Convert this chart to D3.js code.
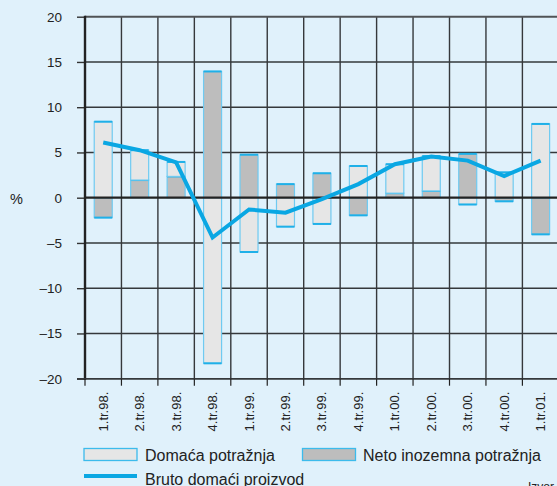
<!DOCTYPE html>
<html>
<head>
<meta charset="utf-8">
<script src="https://cdn.jsdelivr.net/npm/d3@7"></script>
<style>
  body { margin: 0; background: #e0f1fb; }
  svg { display: block; font-family: "Liberation Sans", Arial, sans-serif; }
</style>
</head>
<body>
<div id="chart"></div>
<script>
const quarters = ['1.tr.98.', '2.tr.98.', '3.tr.98.', '4.tr.98.', '1.tr.99.', '2.tr.99.', '3.tr.99.',
	'4.tr.99.', '1.tr.00.', '2.tr.00.', '3.tr.00.', '4.tr.00.', '1.tr.01.'];
const domestic = [8.4, 3.3, 1.6, -18.3, -6.0, -3.2, -2.9, 3.5, 3.2, 3.85, -0.75, 2.8, 8.15];
const netForeign = [-2.2, 1.95, 2.35, 13.95, 4.75, 1.5, 2.7, -1.95, 0.5, 0.75, 4.85, -0.4, -4.05];
const gdp = [6.1, 5.25, 3.9, -4.4, -1.3, -1.65, -0.15, 1.5, 3.7, 4.55, 4.1, 2.4, 4.1];
const yTicks = [-20, -15, -10, -5, 0, 5, 10, 15, 20];

const W = 557, H = 486;
const margin = {top: 16.7, left: 85, bottom: 107.3};
const colW = 36.45;
const plotRight = margin.left + colW * quarters.length;
const plotBottom = H - margin.bottom;

const svg = d3.select('#chart')
	.append('svg')
	.attr('width', W)
	.attr('height', H);

svg.append('rect')
	.attr('width', W)
	.attr('height', H)
	.attr('fill', '#e0f1fb');

const x = d3.scaleBand()
	.domain(quarters)
	.range([margin.left, plotRight])
	.paddingInner(0)
	.paddingOuter(0);

const y = d3.scaleLinear()
	.domain([-20, 20])
	.range([plotBottom, margin.top]);

// grid
svg.append('g')
	.selectAll('line')
	.data(yTicks.filter(d => d !== 0 && d !== 20))
	.join('line')
	.attr('x1', margin.left)
	.attr('x2', plotRight)
	.attr('y1', d => y(d))
	.attr('y2', d => y(d))
	.attr('stroke', '#35383b')
	.attr('stroke-width', 1.4);

svg.append('g')
	.selectAll('line')
	.data(quarters.slice(1))
	.join('line')
	.attr('x1', d => x(d))
	.attr('x2', d => x(d))
	.attr('y1', y(20))
	.attr('y2', y(-20))
	.attr('stroke', '#35383b')
	.attr('stroke-width', 1.4);

svg.append('line')
	.attr('x1', margin.left)
	.attr('x2', plotRight)
	.attr('y1', y(20))
	.attr('y2', y(20))
	.attr('stroke', '#505356')
	.attr('stroke-width', 2);

// bars
const table = quarters.map((q, i) => ({q: q, net: netForeign[i], dom: domestic[i]}));
const series = d3.stack()
	.keys(['net', 'dom'])
	.offset(d3.stackOffsetDiverging)(table);
const fills = {net: '#bdbdbd', dom: '#e6e6e6'};
const barW = 18;

series.forEach(s => {
	const g = svg.append('g');
	g.selectAll('rect')
		.data(s)
		.join('rect')
		.attr('x', d => x(d.data.q) + colW / 2 - barW / 2)
		.attr('y', d => y(Math.max(d[0], d[1])))
		.attr('width', barW)
		.attr('height', d => Math.abs(y(d[0]) - y(d[1])))
		.attr('fill', fills[s.key])
		.attr('stroke', '#6fcaf1')
		.attr('stroke-width', 1.2);
	// stronger edge at the outer end of each bar
	g.selectAll('line')
		.data(s.filter(d => Math.abs(d[1] - d[0]) > 0.01))
		.join('line')
		.attr('x1', d => x(d.data.q) + colW / 2 - barW / 2)
		.attr('x2', d => x(d.data.q) + colW / 2 + barW / 2)
		.attr('y1', d => y(d.data[s.key] >= 0 ? d[1] : d[0]))
		.attr('y2', d => y(d.data[s.key] >= 0 ? d[1] : d[0]))
		.attr('stroke', '#1fb0e8')
		.attr('stroke-width', 2);
});

// zero line and left axis
svg.append('line')
	.attr('x1', margin.left)
	.attr('x2', plotRight)
	.attr('y1', y(0))
	.attr('y2', y(0))
	.attr('stroke', '#222')
	.attr('stroke-width', 2.2);

const yAxis = d3.axisLeft(y)
	.tickValues(yTicks)
	.tickSize(8)
	.tickPadding(15)
	.tickFormat(d => d < 0 ? '\u2013' + Math.abs(d) : d);

svg.append('g')
	.attr('transform', `translate(${margin.left}, 0)`)
	.call(yAxis)
	.call(g => g.select('.domain').remove())
	.call(g => g.selectAll('.tick line').attr('stroke', '#333').attr('stroke-width', 1.4))
	.call(g => g.selectAll('.tick text')
		.attr('fill', '#222')
		.style('font-size', '13.5px')
		.style('font-family', '"Liberation Sans", Arial, sans-serif'));

svg.append('line')
	.attr('x1', margin.left)
	.attr('x2', margin.left)
	.attr('y1', y(20) - 1)
	.attr('y2', y(-20) + 1)
	.attr('stroke', '#222')
	.attr('stroke-width', 2.4);

svg.append('text')
	.attr('x', 10)
	.attr('y', y(0) + 6)
	.attr('fill', '#222')
	.style('font-size', '14.5px')
	.text('%');

// bottom axis
svg.append('line')
	.attr('x1', margin.left - 8)
	.attr('x2', plotRight)
	.attr('y1', y(-20))
	.attr('y2', y(-20))
	.attr('stroke', '#35383b')
	.attr('stroke-width', 1.5);

svg.append('g')
	.selectAll('line')
	.data(quarters)
	.join('line')
	.attr('x1', d => x(d))
	.attr('x2', d => x(d))
	.attr('y1', y(-20))
	.attr('y2', y(-20) + 7)
	.attr('stroke', '#222')
	.attr('stroke-width', 1.2);

svg.append('g')
	.selectAll('text')
	.data(quarters)
	.join('text')
	.attr('transform', d => `translate(${x(d) + colW / 2}, ${y(-20) + 13}) rotate(-90)`)
	.attr('text-anchor', 'end')
	.attr('dy', '0.35em')
	.attr('fill', '#222')
	.style('font-size', '13px')
	.text(d => d);

// GDP line
const line = d3.line()
	.x((d, i) => x(quarters[i]) + colW / 2)
	.y(d => y(d));

svg.append('path')
	.datum(gdp)
	.attr('d', line)
	.attr('fill', 'none')
	.attr('stroke', '#0aa7e3')
	.attr('stroke-width', 4)
	.attr('stroke-linejoin', 'miter');

// legend
const legend = svg.append('g').style('font-size', '16px').attr('fill', '#222');
legend.append('rect')
	.attr('x', 84).attr('y', 448.5).attr('width', 53).attr('height', 12)
	.attr('fill', fills.dom).attr('stroke', '#3cbbec').attr('stroke-width', 1.3);
legend.append('text').attr('x', 145).attr('y', 461).text('Domaća potražnja');
legend.append('rect')
	.attr('x', 302.5).attr('y', 448.5).attr('width', 53).attr('height', 12)
	.attr('fill', fills.net).attr('stroke', '#3cbbec').attr('stroke-width', 1.3);
legend.append('text').attr('x', 363).attr('y', 461).text('Neto inozemna potražnja');
legend.append('line')
	.attr('x1', 84).attr('x2', 137).attr('y1', 476).attr('y2', 476)
	.attr('stroke', '#0aa7e3').attr('stroke-width', 4);
legend.append('text').attr('x', 145).attr('y', 484.5).text('Bruto domaći proizvod');

svg.append('text')
	.attr('x', 528)
	.attr('y', 491)
	.attr('fill', '#222')
	.style('font-size', '12px')
	.text('Izvor');
</script>
</body>
</html>
